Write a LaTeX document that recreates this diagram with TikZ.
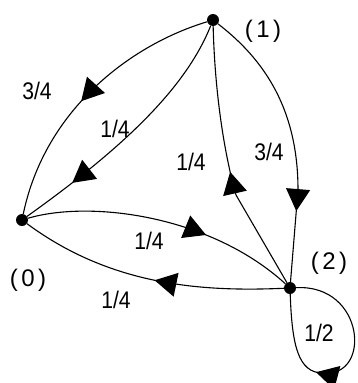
\documentclass[tikz,border=0pt]{standalone}
\usepackage{fontspec}
\setmainfont{Liberation Sans}
\newfontfamily\probfont[FakeStretch=0.88]{Liberation Sans}
\newfontfamily\statefont[LetterSpace=14]{Liberation Sans}
\usetikzlibrary{arrows.meta,decorations.markings}
\begin{document}
\begin{tikzpicture}[x=1pt,y=-1pt,
  state/.style={circle,fill=black,inner sep=0pt,minimum size=12pt},
  tag/.style={font=\probfont\fontsize{24}{26}\selectfont,inner sep=0pt},
  statetag/.style={font=\statefont\fontsize{24}{26}\selectfont,inner sep=0pt},
  edge/.style={line width=1.1pt},
  midarrow/.style={postaction={decorate,decoration={markings,
      mark=at position #1 with {\arrow{Triangle[length=22pt,width=24pt]}}}}}]
\useasboundingbox (0,0) rectangle (357,383);
% states
\node[state] (n0) at (22,220) {};
\node[state] (n1) at (213,20) {};
\node[state] (n2) at (290,288) {};
\node[statetag] (l0) at (28,280) {(0)};
\node[statetag] (l1) at (263,31) {(1)};
\node[statetag] (l2) at (329,263) {(2)};
% transitions out of (1)
\draw[edge,midarrow=0.54] (n1) .. controls (130,45) and (45,110) .. (n0);
\draw[edge,midarrow=0.79] (n1) .. controls (185,90) and (120,150) .. (n0);
\coordinate (k12) at (298,190);
\draw[edge,midarrow=0.75] (n1) .. controls (265,60) and (298,110) .. (k12) -- (n2);
% transitions out of (2)
\coordinate (k21) at (236,195);
\draw[edge,midarrow=0.46] (n2) -- (k21) .. controls (226,160) and (215,100) .. (n1);
\draw[edge,midarrow=0.48] (n2) .. controls (200,292) and (110,285) .. (n0);
\coordinate (lb) at (323,373);
\draw[edge,midarrow=0.63] (n2) .. controls (365,284) and (372,378) .. (lb)
  .. controls (298,373) and (292,345) .. (n2);
% transition out of (0)
\draw[edge,midarrow=0.66] (n0) .. controls (90,200) and (210,215) .. (n2);
% probabilities
\node[tag] (p10a) at (37,91) {3/4};
\node[tag] (p10b) at (115,129) {1/4};
\node[tag] (p21) at (191,162) {1/4};
\node[tag] (p12) at (269,152) {3/4};
\node[tag] (p02) at (149,241) {1/4};
\node[tag] (p20) at (116,300) {1/4};
\node[tag] (p22) at (319,333) {1/2};
\end{tikzpicture}
\end{document}
